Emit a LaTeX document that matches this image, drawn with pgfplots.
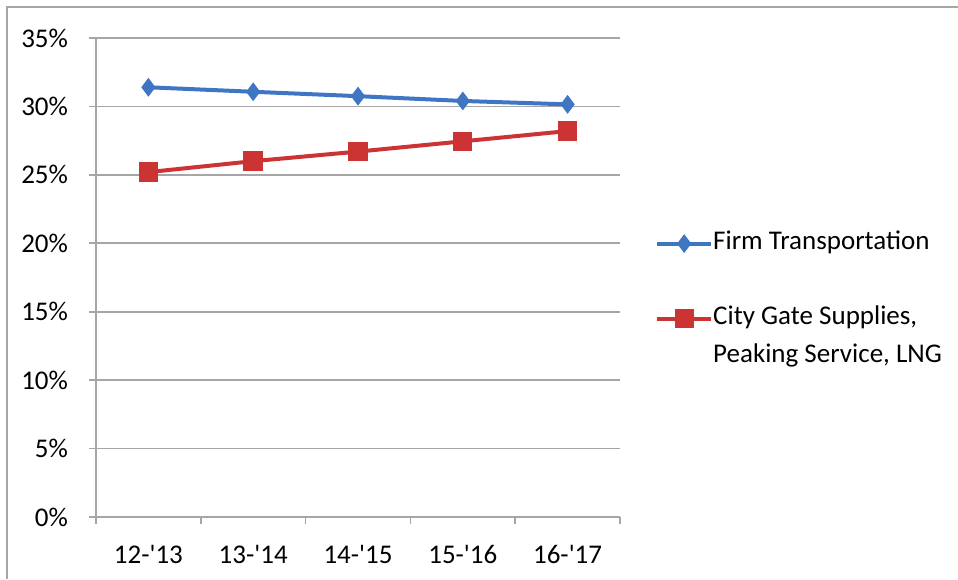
\documentclass[border=0pt]{standalone}
\usepackage{pgfplots}
\pgfplotsset{compat=1.18}
\usepackage{fontspec}
\setmainfont{Carlito}
\definecolor{fblue}{HTML}{3F76C4}
\definecolor{cred}{HTML}{CC3333}
\definecolor{gridc}{HTML}{A6A6A6}
\begin{document}
\begin{tikzpicture}[x=1pt,y=1pt]
\useasboundingbox (0,0) rectangle (479,289.5);
\draw[gridc, line width=0.8pt] (3.5,0) -- (3.5,286) -- (479,286);
\begin{axis}[
  at={(48pt,31pt)}, anchor=south west,
  scale only axis, width=262pt, height=239.5pt,
  font=\fontsize{13.5}{16.2}\selectfont,
  xmin=-0.5, xmax=4.5, ymin=0, ymax=35,
  axis x line*=bottom, axis y line*=left,
  axis line style={gridc, line width=0.8pt, -},
  xtick={0,1,2,3,4},
  xticklabels={12-\textquotesingle13,13-\textquotesingle14,14-\textquotesingle15,15-\textquotesingle16,16-\textquotesingle17},
  minor xtick={-0.5,0.5,1.5,2.5,3.5,4.5},
  major x tick style={draw=none},
  minor tick length=3.5pt,
  ytick={0,5,10,15,20,25,30,35},
  yticklabels={0\%,5\%,10\%,15\%,20\%,25\%,30\%,35\%},
  major tick length=3.5pt,
  tick align=outside,
  tick style={gridc, line width=0.8pt},
  ymajorgrids,
  major grid style={gridc, line width=0.8pt},
  yticklabel style={xshift=-7pt},
  xticklabel style={yshift=-7pt},
  clip=false,
  legend style={at={(1.055,0.605)}, anchor=north west, draw=none, fill=none,
    row sep=6.75pt, font=\fontsize{13.5}{16.2}\selectfont,
    nodes={inner sep=0pt, text height=9pt, text depth=3pt}},
  legend cell align=left,
  legend image code/.code={\draw[mark repeat=2,mark phase=2,#1] plot coordinates {(0pt,0pt) (13.5pt,0pt) (27pt,0pt)};},
]
\addplot[color=fblue, line width=2pt, mark=diamond*, mark size=4.3pt,
  mark options={fill=fblue, line width=0.5pt}]
  coordinates {(0,31.4) (1,31.07) (2,30.75) (3,30.4) (4,30.15)};
\addlegendentry{Firm Transportation}
\addlegendimage{empty legend}
\addlegendentry{}
\addplot[color=cred, line width=2pt, mark=square*, mark size=4.6pt,
  mark options={fill=cred, line width=0.5pt}]
  coordinates {(0,25.2) (1,26.0) (2,26.7) (3,27.45) (4,28.2)};
\addlegendentry{City Gate Supplies,}
\addlegendimage{empty legend}
\addlegendentry{Peaking Service, LNG}
\end{axis}
\end{tikzpicture}
\end{document}
